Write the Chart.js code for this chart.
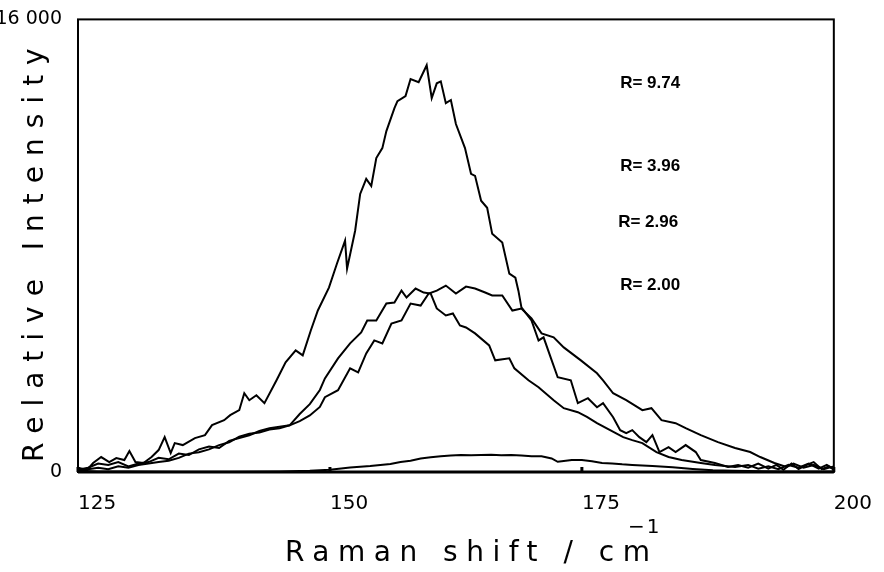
<!DOCTYPE html>
<html>
<head>
<meta charset="utf-8">
<script src="https://cdn.jsdelivr.net/npm/chart.js@4"></script>
<style>
body { margin: 0; background: #fff; }
</style>
</head>
<body>
<canvas id="ramanChart" width="884" height="572"></canvas>
<script>

/* values, Raman shift in cm-1 and intensity */

const xTicks = [125, 150, 175, 200];
const yTicks = [0, 16000];
const rLabels = ["R= 9.74", "R= 3.96", "R= 2.96", "R= 2.00"];

const shiftR974 = [
125, 125.9, 126.5, 127.3, 128.1, 128.8, 129.6, 130.1, 130.7, 131.5,
132.3, 133.0, 133.6, 134.2, 134.6, 135.4, 136.6, 137.6, 138.3, 139.5,
140.1, 141.0, 141.5, 142.0, 142.7, 143.5, 144.7, 145.6, 146.6, 147.3,
148.1, 148.8, 149.9, 150.7, 151.5, 151.7, 152.5, 153.0, 153.6, 154.1,
154.6, 155.2, 155.6, 156.4, 156.7, 157.5, 158.0, 158.8, 159.6, 160.1,
160.6, 161.0, 161.5, 162.0, 162.5, 163.4, 164.0, 164.4, 165.0, 165.6,
166.1, 167.1, 167.8, 168.4, 168.7, 169.0, 170.0, 170.7, 171.2, 171.9,
172.6, 173.9, 174.6, 175.6, 176.5, 177.1, 178.1, 178.8, 179.4, 180.0,
180.7, 181.4, 182.0, 182.7, 183.6, 184.3, 185.3, 186.3, 186.8, 188.2,
189.5, 190.5, 191.5, 192.5, 193.5, 194.3, 195.0, 195.8, 196.5, 197.3,
198.0, 198.8, 199.5, 200
];
const intR974 = [
150, 70, 317, 529, 352, 493, 423, 740, 352, 317,
529, 775, 1233, 670, 1022, 952, 1198, 1304, 1656, 1833,
2009, 2185, 2784, 2537, 2714, 2432, 3242, 3877, 4300, 4123,
5004, 5709, 6520, 7370, 8180, 7190, 8530, 9830, 10360, 10110,
11100, 11450, 12050, 12860, 13110, 13290, 13890, 13780, 14380, 13220,
13740, 13810, 13040, 13150, 12300, 11450, 10540, 10470, 9590, 9340,
8420, 8110, 7010, 6870, 6410, 5820, 5360, 4650, 4760, 4050,
3350, 3242, 2432, 2608, 2290, 2432, 1938, 1480, 1374, 1480,
1233, 1057, 1304, 705, 881, 705, 952, 705, 423, 317,
176, 250, 150, 300, 120, 250, 80, 300, 100, 250,
350, 100, 200, 80
];

const shiftR396 = [
125, 126, 127, 128, 129, 130, 131, 132, 133, 134,
135, 136, 137, 138, 139, 140, 141, 142, 143, 144,
145, 146, 147, 148, 149, 149.5, 150.8, 152.0, 153.1, 153.7,
154.6, 155.6, 156.4, 157.1, 157.6, 158.5, 159.3, 160.0, 160.6, 161.5,
162.2, 162.9, 163.5, 164.4, 165.8, 166.4, 167.8, 168.3, 169.7, 170.7,
172.2, 173.2, 174.6, 175.5, 176.5, 177.8, 179.1, 180.0, 181.0, 182.4,
183.6, 184.9, 186.8, 188.2, 190.2, 191.5, 192.5, 193.5, 194.5, 195.5,
196.5, 197.5, 198.5, 199.3, 200
];
const intR396 = [
80, 150, 300, 250, 350, 200, 300, 350, 500, 450,
650, 600, 800, 900, 850, 1100, 1200, 1300, 1450, 1550,
1600, 1650, 2050, 2400, 2900, 3310, 4018, 4546, 4934, 5357,
5357, 5956, 5991, 6414, 6167, 6485, 6344, 6308, 5780, 5533,
5604, 5181, 5110, 4899, 4476, 3947, 4018, 3665, 3242, 2996,
2537, 2256, 2115, 1950, 1727, 1480, 1233, 1128, 1022, 705,
529, 423, 317, 247, 176, 250, 120, 200, 100, 250,
150, 300, 120, 250, 100
];

const shiftR296 = [
125, 126, 127, 128, 129, 130, 131, 132, 133, 134,
135, 136, 137, 138, 139, 140, 141, 142, 143, 144,
145, 146, 147, 148, 149, 149.5, 150.8, 152.0, 152.8, 153.6,
154.4, 155.2, 156.1, 157.1, 158.0, 159.0, 159.8, 160.6, 161.5, 162.5,
163.5, 164.4, 165.4, 166.1, 167.1, 168.1, 169.0, 170.0, 171.0, 172.2,
173.2, 174.9, 176.5, 177.1, 178.1, 179.4, 181.0, 181.9, 182.9, 184.3,
185.3, 186.8, 188.5, 190.2, 191.7, 192.7, 194.1, 195.3, 196, 197,
198, 199, 200
];
const intR296 = [
0, 100, 150, 100, 200, 150, 250, 300, 350, 400,
500, 650, 700, 800, 950, 1050, 1250, 1350, 1400, 1500,
1550, 1650, 1800, 2000, 2300, 2643, 2890, 3665, 3524, 4194,
4652, 4546, 5251, 5357, 5956, 5885, 6308, 6414, 6590, 6308,
6555, 6485, 6344, 6238, 6238, 5709, 5780, 5427, 4899, 4758,
4405, 3947, 3489, 3242, 2784, 2537, 2185, 2256, 1833, 1727,
1550, 1304, 1057, 846, 705, 529, 317, 176, 300, 150,
250, 100, 200
];

const shiftR200 = [
125, 127, 130, 135, 140, 145, 148, 150, 152, 154,
156, 157, 158, 159, 160, 161, 162, 163, 164, 165,
166, 167, 168, 169, 170, 171, 172, 172.6, 173, 174,
175, 176, 177, 178, 179, 180, 182, 184, 186, 188,
190, 193, 196, 200
];
const intR200 = [
40, 20, 20, 10, 10, 20, 40, 80, 160, 210,
280, 350, 400, 480, 520, 560, 580, 600, 590, 600,
610, 590, 600, 580, 560, 560, 480, 360, 380, 420,
420, 380, 320, 300, 270, 250, 210, 170, 110, 60,
40, 30, 20, 20
];


function toPoints(xs, ys) {
return xs.map((v, i) => ({ x: v, y: ys[i] }));
}

function curve(xs, ys) {
return {
data: toPoints(xs, ys),
borderColor: "#000",
borderWidth: 2,
pointRadius: 0,
tension: 0,
fill: false
};
}


/* frame, ticks pointing inward, R labels and axis titles */

const plotText = {

id: "plotText",

afterDraw(chart) {

const ctx = chart.ctx;
const a = chart.chartArea;
const xs = chart.scales.x;
const ys = chart.scales.y;

ctx.save();

ctx.strokeStyle = "#000";
ctx.lineWidth = 2;
ctx.strokeRect(a.left, a.top, a.right - a.left, a.bottom - a.top);

ctx.lineWidth = 3;
ctx.beginPath();
ctx.moveTo(a.left, a.bottom);
ctx.lineTo(a.right, a.bottom);
xTicks.forEach(v => {
const px = xs.getPixelForValue(v);
ctx.moveTo(px, a.bottom);
ctx.lineTo(px, a.bottom - 5);
});
ctx.stroke();

ctx.fillStyle = "#000";
ctx.font = "bold 17px 'Liberation Sans'";
ctx.textAlign = "left";
ctx.textBaseline = "middle";
const labelY = [13750, 10820, 8810, 6590];
const labelX = [178.8, 178.8, 178.6, 178.8];
rLabels.forEach((t, i) => {
ctx.fillText(t, xs.getPixelForValue(labelX[i]), ys.getPixelForValue(labelY[i]));
});

ctx.font = "28px 'DejaVu Sans'";
ctx.textBaseline = "alphabetic";
ctx.letterSpacing = "8.5px";
ctx.fillText("Raman shift / cm", 285, 561);

ctx.letterSpacing = "2px";
ctx.font = "20px 'DejaVu Sans'";
ctx.fillText("\u22121", 628, 533);

ctx.font = "28px 'DejaVu Sans'";
ctx.letterSpacing = "10px";
ctx.translate(43, 462);
ctx.rotate(-Math.PI / 2);
ctx.fillText("Relative Intensity", 0, 0);

ctx.restore();

}

};


const ctx = document.getElementById("ramanChart").getContext("2d");

new Chart(ctx, {

type: "line",

data: {
datasets: [
curve(shiftR974, intR974),
curve(shiftR396, intR396),
curve(shiftR296, intR296),
curve(shiftR200, intR200)
]
},

options: {

responsive: false,
animation: false,

layout: {
padding: { left: 0, top: 18, right: 36, bottom: 0 }
},

plugins: {
legend: { display: false },
tooltip: { enabled: false }
},

scales: {

x: {
type: "linear",
min: 125,
max: 200,
afterFit: s => { s.height = 100; },
afterBuildTicks: s => { s.ticks = xTicks.map(v => ({ value: v })); },
grid: { display: false },
border: { display: false },
ticks: {
align: "start",
padding: 12,
color: "#000",
font: { family: "DejaVu Sans", size: 20 }
}
},

y: {
min: 0,
max: 16000,
afterFit: s => { s.width = 78; },
afterBuildTicks: s => { s.ticks = yTicks.map(v => ({ value: v })); },
grid: { display: false },
border: { display: false },
ticks: {
padding: 8,
color: "#000",
font: { family: "DejaVu Sans", size: 19 },
callback: v => v === 16000 ? "16 000" : String(v)
}
}

}

},

plugins: [plotText]

});

</script>
</body>
</html>
